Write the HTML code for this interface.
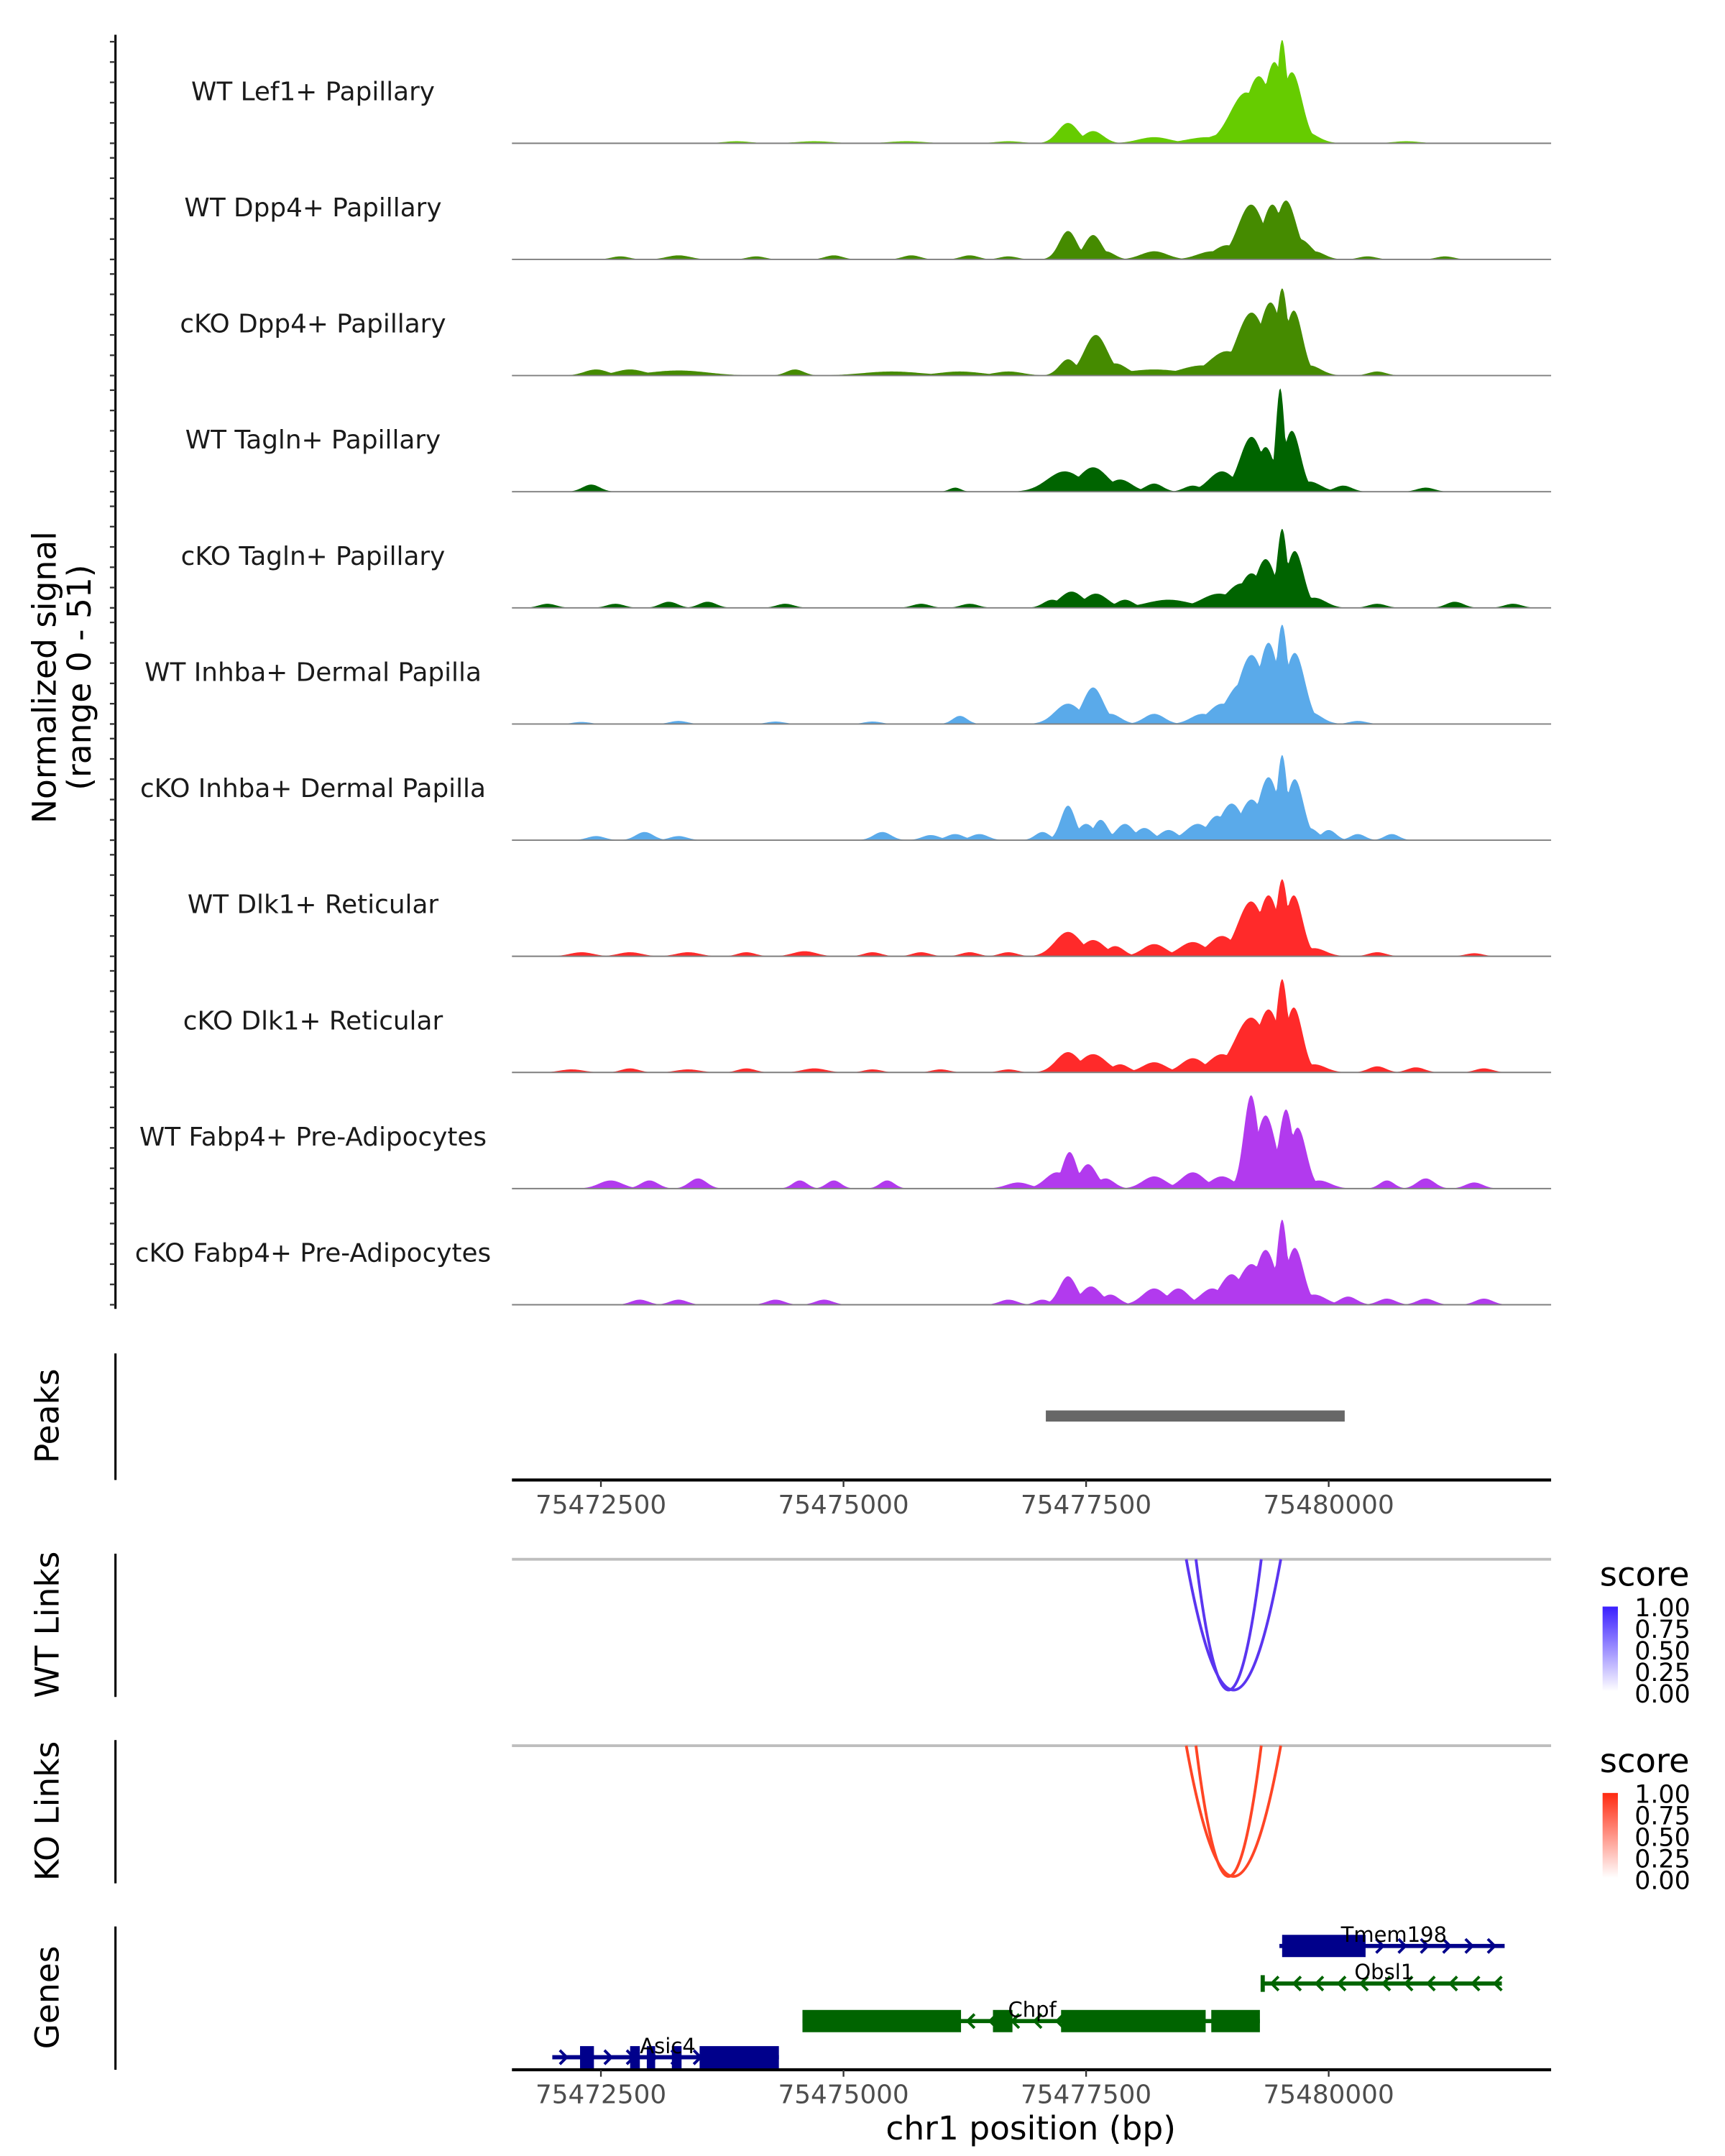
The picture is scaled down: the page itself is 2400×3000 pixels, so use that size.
<!DOCTYPE html>
<html><head><meta charset="utf-8">
<style>
html,body{margin:0;padding:0;background:#fff;}
svg{display:block;font-family:"DejaVu Sans","Liberation Sans",sans-serif;}
</style></head>
<body>
<svg id="chart" width="2400" height="3000" viewBox="0 0 1240 1550" preserveAspectRatio="none" xmlns="http://www.w3.org/2000/svg">
<rect width="1240" height="1550" fill="#fff"/>
<g id="tracks"></g>
<g id="lower"></g>
</svg>
<script>
// ---- data ----
const trackNames = ["WT Lef1+ Papillary","WT Dpp4+ Papillary","cKO Dpp4+ Papillary","WT Tagln+ Papillary","cKO Tagln+ Papillary","WT Inhba+ Dermal Papilla","cKO Inhba+ Dermal Papilla","WT Dlk1+ Reticular","cKO Dlk1+ Reticular","WT Fabp4+ Pre-Adipocytes","cKO Fabp4+ Pre-Adipocytes"];
const trackColors = ["#66cc00","#458b00","#458b00","#006400","#006400","#5aaaea","#5aaaea","#ff2a2a","#ff2a2a","#b23aee","#b23aee"];
// peak components per track: [position bp, height (0-51), width bp]
const trackPeaks = [
 [[75477314,10,70],[75477572,6,70],[75478202,3,110],[75478750,3,140],[75478950,5,120],[75479150,25,110],[75479280,33,90],[75479440,40,70],[75479520,51,35],[75479620,35,70],[75479740,6,90],[75473900,1,90],[75474700,1,120],[75475650,1,120],[75476700,1,90],[75480800,1,90]],
 [[75477314,14,60],[75477572,12,60],[75477700,4,60],[75478202,4,90],[75478800,4,100],[75478950,7,90],[75479200,27,90],[75479420,27,70],[75479560,29,70],[75479700,10,80],[75479850,4,70],[75472700,1.5,60],[75473300,2,80],[75474100,1.5,60],[75474900,2,60],[75475700,2,60],[75476300,2,60],[75476700,1.5,60],[75480400,1.5,60],[75481200,1.5,60]],
 [[75477314,8,60],[75477600,20,80],[75477800,6,80],[75478202,3,200],[75478700,5,150],[75478950,12,120],[75479205,31,100],[75479400,36,80],[75479520,43,40],[75479640,32,60],[75479800,5,80],[75472450,3,80],[75472800,3,100],[75473300,2.5,200],[75474500,3,60],[75475500,2,200],[75476200,2,150],[75476700,2,100],[75480500,2,60]],
 [[75477280,10,120],[75477572,12,100],[75477850,6,80],[75478200,4,60],[75478600,3,60],[75478900,10,90],[75479205,27,80],[75479350,22,60],[75479500,51,30],[75479620,30,60],[75479800,5,80],[75480150,3,60],[75472400,3.5,60],[75476150,2,40],[75481000,2,60]],
 [[75477150,4,60],[75477350,8,80],[75477600,7,80],[75477900,4,60],[75478350,4,150],[75478870,7,120],[75479100,12,100],[75479205,17,80],[75479350,24,70],[75479520,39,35],[75479650,28,60],[75479850,5,80],[75471950,2,60],[75472650,2,60],[75473200,3,60],[75473600,3,60],[75474400,2,60],[75475800,2,60],[75476300,2,60],[75480500,2,60],[75481300,3,60],[75481900,2,60]],
 [[75477314,10,90],[75477572,18,70],[75477750,5,70],[75478202,5,70],[75478700,5,80],[75478900,10,90],[75479100,20,100],[75479205,34,90],[75479380,40,70],[75479520,49,40],[75479650,35,70],[75479800,6,80],[75476200,4,50],[75472300,1,60],[75473300,1.5,60],[75474300,1.2,60],[75475300,1.2,60],[75480300,1.5,60]],
 [[75477314,17,50],[75477500,8,60],[75477650,10,50],[75477900,8,60],[75478100,6,60],[75478350,5,60],[75478650,8,80],[75478850,12,70],[75479000,18,80],[75479205,20,80],[75479380,31,70],[75479520,42,35],[75479650,30,60],[75479800,6,60],[75480000,5,50],[75472450,2,60],[75472950,4,60],[75473300,2,60],[75475400,4,60],[75475900,2.5,60],[75476150,3,60],[75476400,3,60],[75477050,4,50],[75480300,3,50],[75480650,3,50]],
 [[75477314,12,90],[75477572,8,80],[75477800,5,60],[75478202,6,80],[75478600,7,90],[75478900,10,90],[75479200,27,90],[75479380,30,70],[75479520,38,40],[75479640,30,60],[75479850,4,80],[75472300,2,80],[75472800,2,80],[75473400,2,80],[75474000,2,60],[75474600,2.5,80],[75475300,2,60],[75475800,2,60],[75476300,2,60],[75476700,2,60],[75480500,2,60],[75481500,1.5,60]],
 [[75477314,10,80],[75477572,9,90],[75477850,4,60],[75478202,5,80],[75478600,7,80],[75478900,9,90],[75479200,27,110],[75479380,31,80],[75479520,46,40],[75479640,32,60],[75479850,4,80],[75472200,1.5,80],[75472800,2,60],[75473400,1.5,80],[75474000,2,60],[75474700,2,80],[75475300,1.5,60],[75476000,1.5,60],[75476700,1.5,60],[75480500,3,60],[75480900,2.5,60],[75481600,2,60]],
 [[75477200,8,80],[75477330,18,50],[75477520,12,60],[75477700,5,60],[75478202,6,80],[75478600,8,80],[75478900,6,80],[75479200,46,50],[75479350,36,70],[75479560,39,50],[75479680,30,60],[75479900,4,80],[75472600,4,80],[75473000,4,60],[75473500,5,60],[75474550,4,50],[75474900,4,50],[75475450,4,50],[75476800,3,80],[75480600,4,50],[75481000,5,60],[75481500,3,60]],
 [[75477314,14,60],[75477550,9,70],[75477750,5,60],[75478202,8,80],[75478450,8,70],[75478800,8,80],[75479000,15,80],[75479205,20,90],[75479350,27,70],[75479520,42,35],[75479650,28,60],[75479850,5,80],[75480200,4,60],[75472900,2.5,60],[75473300,2.5,60],[75474300,2.5,60],[75474800,2.5,60],[75476700,2.5,60],[75477050,2.5,50],[75480600,3,60],[75481000,3,60],[75481600,3,60]]
];
const xTickValues = [75472500,75475000,75477500,75480000];
const xTickLabels = ["75472500","75475000","75477500","75480000"];
const peakRegions = [[75477085,75480165]];
const wtLinks = [[75478632,75479305,1.0],[75478532,75479506,1.0]];
const koLinks = [[75478632,75479305,1.0],[75478532,75479506,1.0]];
const legendLabels = ["1.00","0.75","0.50","0.25","0.00"];
const geneNames = ["Tmem198","Obsl1","Chpf","Asic4"];
const geneStrands = ["+","-","-","+"];
const geneSpans = [[75479492,75481813],[75479320,75481784],[75474577,75479291],[75471999,75474334]];
const geneExons = [
 [[75479520,75480380]],
 [],
 [[75474577,75476211],[75476540,75476741],[75477242,75478732],[75478790,75479291]],
 [[75472285,75472428],[75472801,75472901],[75472973,75473059],[75473231,75473331],[75473517,75474334]]
];
const geneColors = ["#00008b","#006400","#006400","#00008b"];

// ---- scales ----
const X0=368, X1=1115, BP0=75471583, BP1=75482292;
function xs(bp){return X0+(bp-BP0)/(BP1-BP0)*(X1-X0);}
const NS="http://www.w3.org/2000/svg";
function mk(tag,attrs,parent){const e=document.createElementNS(NS,tag);for(const k in attrs)e.setAttribute(k,attrs[k]);parent.appendChild(e);return e;}
const tracks=document.getElementById('tracks');
const lower=document.getElementById('lower');
const base0=103, trackStep=83.5, unitPx=1.46, widthScale=1.5;

// left axis
let ax=mk('line',{x1:83,y1:25,x2:83,y2:941,stroke:'#000','stroke-width':1.6},tracks);


for(let t=0;t<trackNames.length;t++){
  const b=base0+t*trackStep;
  for(let k=0;k<=5;k++){
    const tk=mk('line',{x1:79,y1:b-k*14.6,x2:83,y2:b-k*14.6,stroke:'#333','stroke-width':1.2},tracks);
    
    
  }
}
let yt=mk('text',{x:0,y:0,transform:'translate(44,487) rotate(-90)','text-anchor':'middle','font-size':23.5,fill:'#000'},tracks);


mk('tspan',{x:0,dy:-4},yt).textContent='Normalized signal';
mk('tspan',{x:0,dy:25},yt).textContent='(range 0 - 51)';

for(let t=0;t<trackNames.length;t++){
  const b=base0+t*trackStep;
  const lab=mk('text',{x:225,y:b-31,'text-anchor':'middle','font-size':18.5,fill:'#1a1a1a'},tracks);
  lab.textContent=trackNames[t];
  
  
  const pk=trackPeaks[t];
  let d='M'+X0+','+b;
  for(let bp=BP0;bp<=BP1;bp+=12){
    let v=0;
    for(const p of pk){const z=(bp-p[0])/(p[2]*widthScale);v=Math.max(v,p[1]*Math.exp(-0.5*z*z));}
    v=Math.min(v,51);
    d+=' L'+xs(bp).toFixed(2)+','+(b-v*unitPx).toFixed(2);
  }
  d+=' L'+X1+','+b+' Z';
  const area=mk('path',{d:d,fill:trackColors[t],stroke:'none'},tracks);
  
  
  const bl=mk('line',{x1:X0,y1:b,x2:X1,y2:b,stroke:'#7f7f7f','stroke-width':1},tracks);
  
  
}

// panel axes & titles
function panel(name,y1,y2,title,ty){
  const l=mk('line',{x1:83,y1:y1,x2:83,y2:y2,stroke:'#000','stroke-width':1.6},lower);
  
  
  const tt=mk('text',{x:0,y:0,transform:'translate(42,'+ty+') rotate(-90)','text-anchor':'middle','font-size':23.5,fill:'#000'},lower);
  tt.textContent=title;
  
  
}
panel('peaks',973,1064,'Peaks',1018);
panel('wt-links',1117,1220,'WT Links',1168);
panel('ko-links',1251,1354,'KO Links',1302);
panel('genes',1385,1488,'Genes',1436);

for(const r of peakRegions){
  const pr=mk('rect',{x:xs(r[0]),y:1014,width:xs(r[1])-xs(r[0]),height:8,fill:'#676767'},lower);
  
  
}
function xaxis(y,name){
  const l=mk('line',{x1:X0,y1:y,x2:X1,y2:y,stroke:'#000','stroke-width':2.2},lower);
  
  
  xTickValues.forEach((v,i)=>{
    const tk=mk('line',{x1:xs(v),y1:y,x2:xs(v),y2:y+5,stroke:'#333','stroke-width':1.2},lower);
    
    
    const tl=mk('text',{x:xs(v),y:y+24,'text-anchor':'middle','font-size':18.5,fill:'#4d4d4d'},lower);
    tl.textContent=xTickLabels[i];
    
    
  });
}
xaxis(1064,'peaks-x-axis');
xaxis(1488,'genes-x-axis');
const xt=mk('text',{x:741,y:1538,'text-anchor':'middle','font-size':23.5,fill:'#000'},lower);
xt.textContent='chr1 position (bp)';



// links
function links(arr,y0,col,name){
  const g=mk('line',{x1:X0,y1:y0,x2:X1,y2:y0,stroke:'#bebebe','stroke-width':2},lower);
  
  
  for(const a of arr){
    const xa=xs(a[0]),xb=xs(a[1]);
    const p=mk('path',{d:'M'+xa+','+y0+' Q'+((xa+xb)/2)+','+(y0+188)+' '+xb+','+y0,fill:'none',stroke:col,'stroke-width':2,'stroke-opacity':a[2]},lower);
    
    
  }
}
links(wtLinks,1121,'#5a35f0','wt-link');
links(koLinks,1255,'#ff4525','ko-link');

// legends
const defs=mk('defs',{},lower);
function grad(id,c){const gr=mk('linearGradient',{id:id,x1:0,y1:1,x2:0,y2:0},defs);mk('stop',{offset:0,'stop-color':'#ffffff'},gr);mk('stop',{offset:1,'stop-color':c},gr);}
grad('gb','#3a1fff');grad('gr','#ff2a10');
function legend(y,id,name){
  const st=mk('text',{x:1150,y:y,'font-size':24,fill:'#000'},lower);
  st.textContent='score';
  
  
  const bar=mk('rect',{x:1152,y:y+15,width:11,height:61,fill:'url(#'+id+')'},lower);
  
  
  legendLabels.forEach((l,i)=>{
    const tx=mk('text',{x:1175,y:y+22+i*15.5,'font-size':18,fill:'#000'},lower);
    tx.textContent=l;
    
    
  });
}
legend(1140,'gb','wt-score-legend');
legend(1274,'gr','ko-score-legend');

// genes
const geneRows=[1399,1426,1453,1479];
const labelOffsets=[1002,995,742,480];
geneNames.forEach((gname,i)=>{
  const y=geneRows[i],c=geneColors[i],sp=geneSpans[i];
  const ln=mk('line',{x1:xs(sp[0]),y1:y,x2:xs(sp[1]),y2:y,stroke:c,'stroke-width':3},lower);
  
  
  if(geneExons[i].length===0){
    const tk=mk('line',{x1:xs(sp[0]),y1:y-6,x2:xs(sp[0]),y2:y+6,stroke:c,'stroke-width':3},lower);
    
    
  }
  for(let bp=sp[0]+120;bp<sp[1];bp+=230){
    const x=xs(bp);
    const dd=geneStrands[i]==='+'?'M'+(x-3)+','+(y-5)+' L'+(x+2)+','+y+' L'+(x-3)+','+(y+5):'M'+(x+3)+','+(y-5)+' L'+(x-2)+','+y+' L'+(x+3)+','+(y+5);
    const ar=mk('path',{d:dd,fill:'none',stroke:c,'stroke-width':2},lower);
    
    
  }
  for(const ex of geneExons[i]){
    const r=mk('rect',{x:xs(ex[0]),y:y-8,width:xs(ex[1])-xs(ex[0]),height:16,fill:c},lower);
    
    
  }
  const tl=mk('text',{x:labelOffsets[i],y:y-3,'text-anchor':'middle','font-size':15,fill:'#000'},lower);
  tl.textContent=gname;
  
  
});
</script>
</body></html>
